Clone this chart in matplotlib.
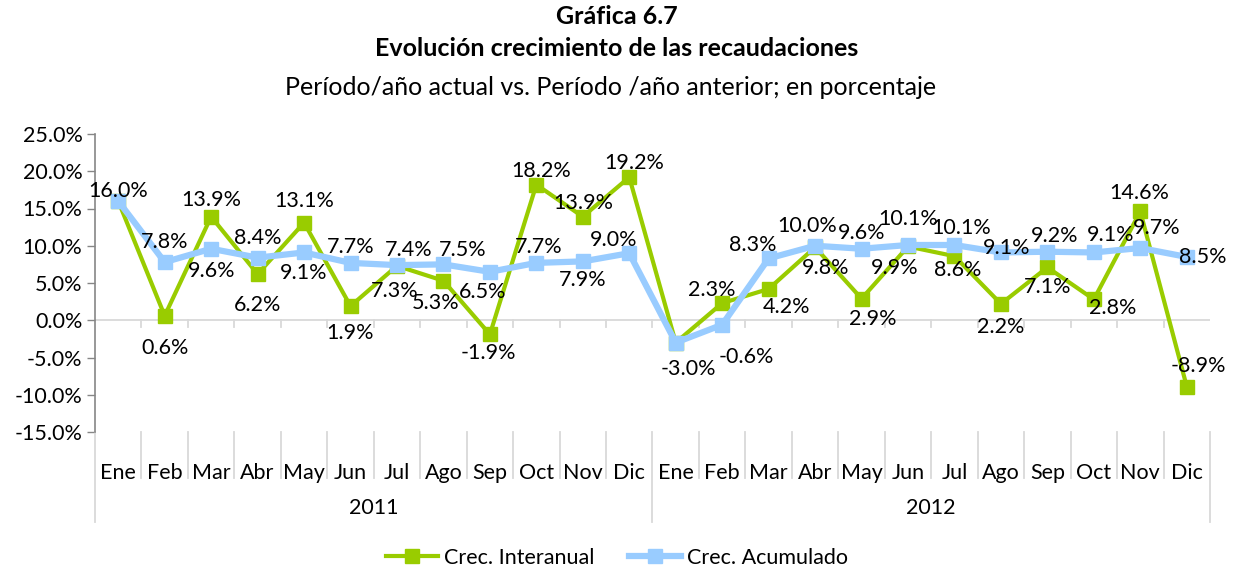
import matplotlib
matplotlib.use("Agg")
import matplotlib.pyplot as plt
from matplotlib.lines import Line2D
from matplotlib.ticker import FuncFormatter

plt.rcParams["font.family"] = ["Lato", "DejaVu Sans"]

# Monthly growth of tax collections, 2011-2012
months = ["Ene", "Feb", "Mar", "Abr", "May", "Jun",
          "Jul", "Ago", "Sep", "Oct", "Nov", "Dic"]
years = ["2011", "2012"]
interanual = [16.0, 0.6, 13.9, 6.2, 13.1, 1.9, 7.3, 5.3, -1.9, 18.2, 13.9, 19.2,
              -3.0, 2.3, 4.2, 9.8, 2.9, 9.9, 8.6, 2.2, 7.1, 2.8, 14.6, -8.9]
acumulado = [16.0, 7.8, 9.6, 8.4, 9.1, 7.7, 7.4, 7.5, 6.5, 7.7, 7.9, 9.0,
             -3.0, -0.6, 8.3, 10.0, 9.6, 10.1, 10.1, 9.1, 9.2, 9.1, 9.7, 8.5]
y_ticks = [-15, -10, -5, 0, 5, 10, 15, 20, 25]

# label offsets in pixels (None = no label drawn)
green_off = [None, (0, -32), (0, 17), (0, -31), (0, 22), (0, -27),
             (-2, -25), (-8, -22), (-2, -19), (5, 14), (0, 14), (5, 14),
             None, (-10, 13), (18, -18), (11, -21), (11, -20), (-13, -22),
             (3, -14), (0, -23), (0, -20), (19, -9), (-1, 18), (12, 21)]
blue_off = [(0, 10), (0, 20), (0, -22), (0, 20), (0, -21), (0, 16),
            (12, 15), (19, 14), (-7, -20), (2, 16), (0, -19), (-16, 13),
            (13, -26), (24, -32), (-16, 13), (-8, 20), (0, 16), (0, 26),
            (7, 17), (6, 4), (7, 16), (17, 17), (16, 20), (16, 0)]

GREEN = "#99CC00"
BLUE = "#99CCFF"
SEP = "#D9D9D9"
FS = 15.5

W, H = 1237, 571
fig = plt.figure(figsize=(W / 100, H / 100), dpi=100, facecolor="white")
ax = fig.add_axes([95 / W, (H - 432) / H, (1210 - 95) / W, (432 - 134) / H])

n = len(interanual)
x = list(range(n))

ax.axhline(0, color=SEP, lw=1.3, zorder=1)
ax.plot(x, interanual, color=GREEN, lw=3, marker="s", ms=10,
        label="Crec. Interanual", zorder=3)
ax.plot(x, acumulado, color=BLUE, lw=4.5, marker="s", ms=10,
        label="Crec. Acumulado", zorder=4)

ax.set_xlim(-0.5, n - 0.5)
ax.set_ylim(-15, 25)
ax.set_yticks(y_ticks)
ax.yaxis.set_major_formatter(FuncFormatter(lambda v, p: f"{v:.1f}%"))
ax.tick_params(axis="y", length=6, width=1, color="#868686",
               labelsize=FS, pad=3)

for s in ["top", "right", "bottom"]:
    ax.spines[s].set_visible(False)
ax.spines["left"].set_color("#868686")
ax.spines["left"].set_linewidth(1.2)

# month labels on the category axis
ax.set_xticks(x)
ax.set_xticklabels(months * len(years), fontsize=FS)
ax.tick_params(axis="x", length=0, pad=22)

# small ticks below the zero line at category boundaries
trans = ax.get_xaxis_transform()
for b in range(1, n):
    ax.plot([b - 0.5, b - 0.5], [0, -0.95], color=SEP, lw=1.3,
            zorder=1)

# separators in the category label area
for b in range(n + 1):
    full = b % len(months) == 0
    y_end = -(522 - 432) / (432 - 134) if full else -(478 - 432) / (432 - 134)
    ax.plot([b - 0.5, b - 0.5], [0, y_end], transform=trans,
            color=SEP, lw=1.3, clip_on=False)

for i, yr in enumerate(years):
    ax.text((i + 0.5) * len(months) - 0.5, -(508 - 432) / (432 - 134), yr,
            transform=trans, ha="center", va="center", fontsize=FS)

# data labels
for series, offs in [(interanual, green_off), (acumulado, blue_off)]:
    for xi, v, off in zip(x, series, offs):
        if off is None:
            continue
        ax.annotate(f"{v:.1f}%", (xi, v), xytext=off,
                    textcoords="offset pixels", ha="center", va="center",
                    fontsize=FS, zorder=5)

fig.text(617 / W, 1 - 17 / H, "Gráfica 6.7", ha="center", va="center",
         fontsize=18, fontweight="bold")
fig.text(617 / W, 1 - 48 / H, "Evolución crecimiento de las recaudaciones",
         ha="center", va="center", fontsize=18, fontweight="bold")
fig.text(611 / W, 1 - 88 / H,
         "Período/año actual vs. Período /año anterior; en porcentaje",
         ha="center", va="center", fontsize=18)

handles = [Line2D([], [], color=GREEN, lw=3, marker="s", ms=10),
           Line2D([], [], color=BLUE, lw=4.5, marker="s", ms=10)]
fig.legend(handles, ["Crec. Interanual", "Crec. Acumulado"],
           loc="center", bbox_to_anchor=(617 / W, 1 - 558 / H), ncol=2,
           frameon=False, fontsize=15.5, handlelength=2.4, columnspacing=1.6,
           handletextpad=0.3)

fig.savefig("out.png", dpi=100, facecolor="white")
